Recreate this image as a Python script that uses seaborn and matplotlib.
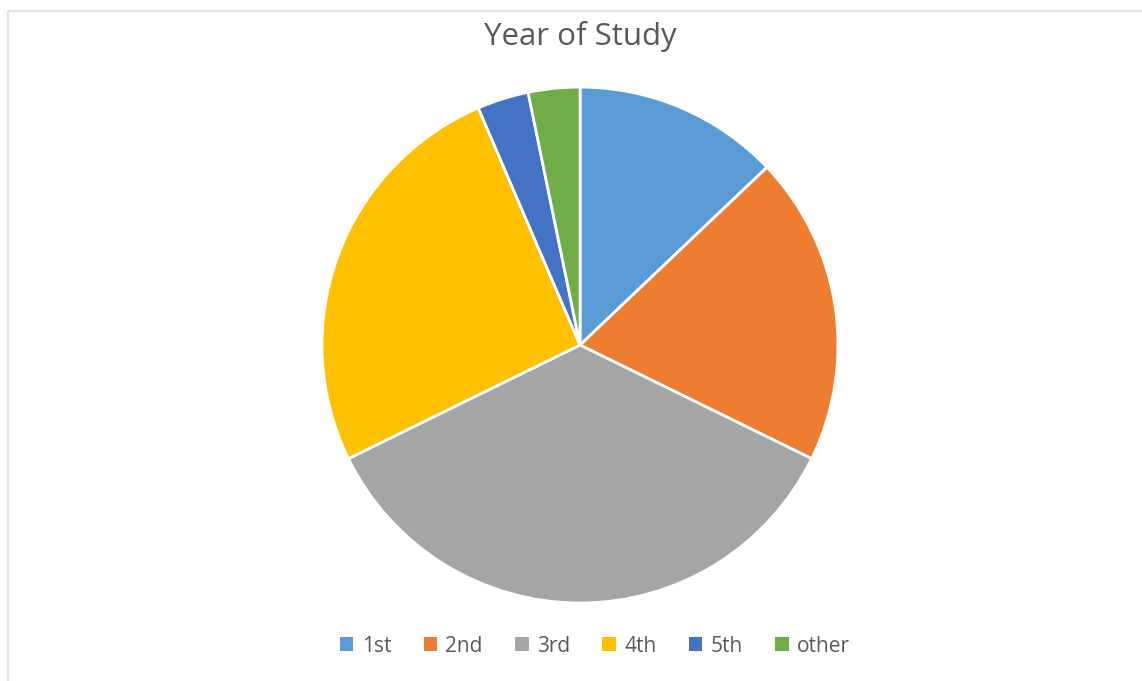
import matplotlib
matplotlib.use("Agg")
import matplotlib.pyplot as plt
import matplotlib.patches as mpatches
from matplotlib.lines import Line2D
import seaborn as sns

# Data
categories = ["1st", "2nd", "3rd", "4th", "5th", "other"]
counts = [4, 6, 11, 8, 1, 1]
colors = ["#5B9BD5", "#ED7D31", "#A5A5A5", "#FFC000", "#4472C4", "#70AD47"]

sns.set_theme(style="white")
plt.rcParams["font.family"] = ["Open Sans", "DejaVu Sans"]

fig = plt.figure(figsize=(11.42, 6.81), dpi=100)

# light grey chart border (only top and left edges visible in the reference)
bx, by = 8 / 1142, 1 - 11 / 681
fig.lines.append(Line2D([bx, bx, 1.0], [0.0, by, by], transform=fig.transFigure,
                        color="#E3E3E3", linewidth=1.5))

ax = fig.add_axes([0.282, 0.1145, 0.4518, 0.7577])
ax.pie(counts, colors=colors, startangle=90, counterclock=False,
       wedgeprops=dict(edgecolor="white", linewidth=2))
ax.set_xlim(-1, 1)
ax.set_ylim(-1, 1)
ax.set_aspect("equal")
ax.axis("off")

fig.text(0.508, 1 - 45 / 681, "Year of Study", ha="center", va="baseline",
         fontsize=22.5, color="#595959")

handles = [mpatches.Patch(facecolor=c, edgecolor="none") for c in colors]
fig.legend(handles, categories, loc="center", bbox_to_anchor=(0.521, 1 - 646 / 681),
           ncol=6, frameon=False, fontsize=15, handlelength=0.65, handleheight=0.65,
           handletextpad=0.4, columnspacing=1.55, labelcolor="#595959")

fig.savefig("out.png", dpi=100)
